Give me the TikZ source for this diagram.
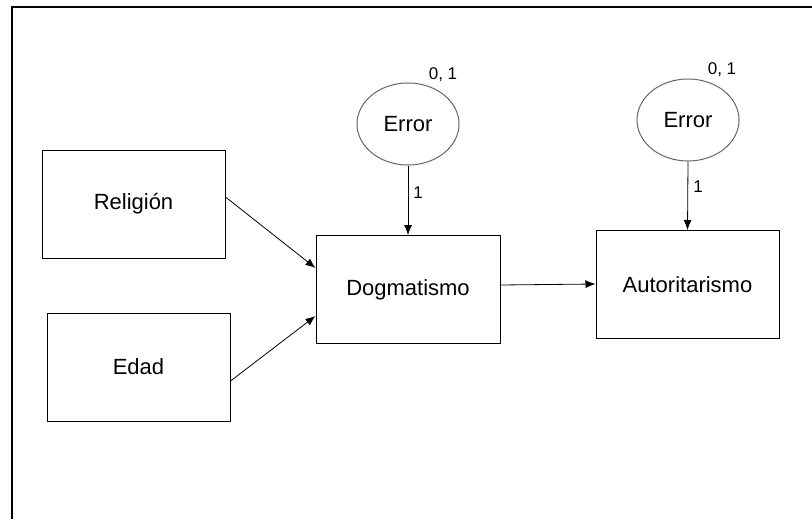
\documentclass[tikz,border=0pt]{standalone}
\usepackage{fontspec}
\setmainfont{Liberation Sans}
\usetikzlibrary{shapes.geometric,arrows.meta}

\begin{document}
\begin{tikzpicture}[x=0.5pt, y=-0.5pt,
        varbox/.style={draw, line width=0.5pt, minimum width=91.5pt, minimum height=54pt,
            font=\fontsize{11}{13}\selectfont},
        errnode/.style={draw=black!60, ellipse, line width=0.5pt, minimum width=51pt,
            minimum height=41pt, inner sep=0pt, font=\fontsize{11}{13}\selectfont},
        path/.style={-{Latex[length=5pt, width=4pt]}, line width=0.4pt},
        weight/.style={font=\fontsize{8.5}{10}\selectfont, inner sep=0pt}]
        \useasboundingbox (0,0) rectangle (812,519);

        % Frame
        \draw[line width=1pt] (12,519) -- (12,7) -- (812,7);

        % Observed variables
        \node[varbox] (relig) at (133.5, 204) {Religión};
        \node[varbox] (edad) at (138.5, 367) {Edad};
        \node[varbox, minimum width=92pt] (dogma) at (408, 289.5) {Dogmatismo};
        \node[varbox] (autor) at (687.5, 284.5) {Autoritarismo};

        % Error terms
        \node[errnode] (err1) at (408, 124) {Error};
        \node[errnode] (err2) at (688, 120) {Error};
        \node[weight] (var1) at (443, 75) {0, 1};
        \node[weight] (var2) at (722, 70) {0, 1};

        % Paths
        \draw[path] ([yshift=3.5pt]relig.east) -- ([yshift=10.75pt]dogma.west);
        \draw[path] ([yshift=-7pt]edad.east) -- ([yshift=-13.25pt]dogma.west);
        \draw[path] ([yshift=2.25pt]dogma.east) -- ([yshift=0.25pt]autor.west);
        \draw[path] (err1.south) -- (dogma.north);
        \draw[path] (err2.south) -- (autor.north);
        \node[weight] (w1) at (418, 193) {1};
        \node[weight] (w2) at (698, 187) {1};
    \end{tikzpicture}
\end{document}
